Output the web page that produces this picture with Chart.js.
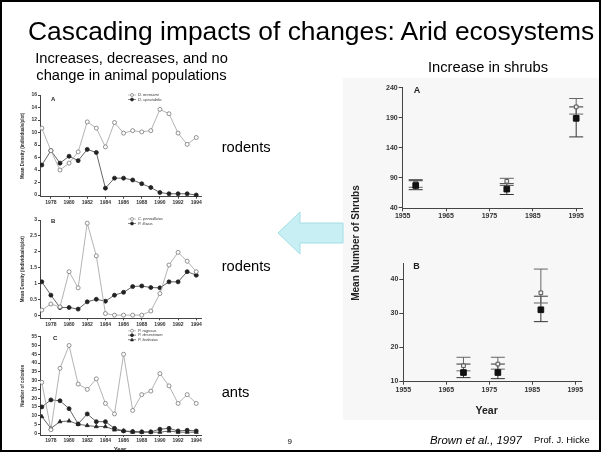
<!DOCTYPE html>
<html>
<head>
<meta charset="utf-8">
<title>Cascading impacts of changes: Arid ecosystems</title>
<script src="https://cdn.jsdelivr.net/npm/chart.js"></script>
<style>
  html, body { margin: 0; padding: 0; background: #fff; }
  body { width: 601px; height: 452px; position: relative; overflow: hidden;
         font-family: "Liberation Sans", Arial, sans-serif; }
  .frame { position: absolute; left: 0; top: 0; width: 597px; height: 448px; border: 2px solid #000; }
  .scan { position: absolute; left: 343px; top: 78px; width: 256px; height: 342px; background: #f7f7f7; }
  .txt { position: absolute; white-space: nowrap; color: #000; line-height: 1; }
  canvas { position: absolute; }
</style>
</head>
<body>
  <div class="scan"></div>

  <canvas id="rodentsA" width="190" height="125" style="left:20px;top:85px"></canvas>
  <canvas id="rodentsB" width="190" height="125" style="left:20px;top:208px"></canvas>
  <canvas id="ants" width="190" height="124" style="left:20px;top:328px"></canvas>
  <canvas id="shrubsA" width="240" height="145" style="left:355px;top:80px"></canvas>
  <canvas id="shrubsB" width="240" height="145" style="left:355px;top:255px"></canvas>

  <svg style="position:absolute;left:0;top:0" width="601" height="452">
    <polygon points="278,233 300,212 300,223 343,223 343,243 300,243 300,254"
             fill="#c8eff3" stroke="#a3dde5" stroke-width="1"/>
  </svg>

  <div class="txt" style="left:28px;top:17.6px;font-size:26.4px">Cascading impacts of changes: Arid ecosystems</div>
  <div class="txt" style="left:21.5px;top:49.6px;width:220px;text-align:center;font-size:14.7px;line-height:17.2px">Increases, decreases, and no<br>change in animal populations</div>
  <div class="txt" style="left:428px;top:59.9px;font-size:14.7px">Increase in shrubs</div>
  <div class="txt" style="left:221.7px;top:139.6px;font-size:14.7px">rodents</div>
  <div class="txt" style="left:221.7px;top:259.3px;font-size:14.7px">rodents</div>
  <div class="txt" style="left:221.7px;top:384.6px;font-size:14.7px">ants</div>
  <div class="txt" style="left:356px;top:243px;font-size:10px;font-weight:bold;color:#222;transform:translate(-50%,-50%) rotate(-90deg)">Mean Number of Shrubs</div>
  <div class="txt" style="left:486.7px;top:405px;font-size:10.5px;font-weight:bold;color:#222;transform:translateX(-50%)">Year</div>
  <div class="txt" style="left:120px;top:446px;font-size:6px;font-weight:bold;color:#222;transform:translateX(-50%)">Year</div>
  <div class="txt" style="left:287.5px;top:438.2px;font-size:8px">9</div>
  <div class="txt" style="left:430px;top:435.3px;font-size:11.4px;font-style:italic">Brown et al., 1997</div>
  <div class="txt" style="left:534px;top:434.7px;font-size:9.4px">Prof. J. Hicke</div>

  <div class="frame"></div>

<script>
// ---- data ----
const years = [1977, 1978, 1979, 1980, 1981, 1982, 1983, 1984, 1985, 1986, 1987, 1988, 1989, 1990, 1991, 1992, 1993, 1994];
const yearTicks = [1978, 1980, 1982, 1984, 1986, 1988, 1990, 1992, 1994];

const rodentsA_open   = [10.7, 7.1, 4.0, 5.1, 6.9, 11.7, 10.7, 7.7, 11.6, 9.9, 10.3, 10.1, 10.3, 13.7, 13.0, 9.9, 8.1, 9.2];
const rodentsA_filled = [4.8, 7.1, 5.1, 6.2, 5.5, 7.3, 6.8, 1.1, 2.7, 2.7, 2.4, 1.8, 1.2, 0.4, 0.2, 0.2, 0.2, 0.0];
const rodentsA_ticks  = [0, 2, 4, 6, 8, 10, 12, 14, 16];

const rodentsB_open   = [0.16, 0.35, 0.26, 1.37, 0.86, 2.9, 1.87, 0.05, 0, 0, 0, 0, 0.13, 0.68, 1.58, 1.98, 1.7, 1.37];
const rodentsB_filled = [1.05, 0.63, 0.24, 0.24, 0.19, 0.42, 0.5, 0.44, 0.63, 0.72, 0.9, 0.92, 0.87, 0.86, 1.05, 1.05, 1.37, 1.26];
const rodentsB_ticks  = [0, 0.5, 1, 1.5, 2, 2.5, 3];

const ants_open   = [29, 2, 37, 50, 28, 25, 31, 17, 11, 45, 13, 22, 24, 34, 27, 17, 22, 17];
const ants_filled = [15, 19, 18.5, 14, 5.3, 11, 6.6, 6.6, 2.8, 1.3, 1, 0.8, 0.8, 2.3, 2.8, 1.3, 1.7, 1.3];
const ants_tri    = [9.5, 2.8, 6.6, 7, 5.1, 4.4, 3.8, 3.8, 1.9, 1.3, 0.6, 0.6, 0.6, 0.6, 1.3, 0.6, 0.6, 0.6];
const ants_ticks  = [0, 5, 10, 15, 20, 25, 30, 35, 40, 45, 50, 55];

const shrubTicks = [1955, 1965, 1975, 1985, 1995];

const shrubYearsA  = [1958, 1979, 1995];
const shrubA_mean  = [77, 71, 189];
const shrubA_lo    = [70, 62, 158];
const shrubA_hi    = [85, 80, 208];
const shrubA_alt   = [81, 84, 208];
const shrubA_altLo = [74, 77, 196];
const shrubA_altHi = [87, 89, 222];
const shrubA_ticks = [40, 90, 140, 190, 240];

const shrubYearsB  = [1969, 1977, 1987];
const shrubB_mean  = [12.5, 12.5, 31];
const shrubB_lo    = [11, 10.7, 27.5];
const shrubB_hi    = [15, 15, 35];
const shrubB_alt   = [14.5, 15, 36];
const shrubB_altLo = [13, 13.5, 33];
const shrubB_altHi = [17, 17, 43];
const shrubB_ticks = [10, 20, 30, 40];

// ---- helpers ----
const FONT = '"Liberation Sans", Arial, sans-serif';
Chart.defaults.font.family = FONT;

const pts = (xs, ys) => xs.map((x, i) => ({ x: x, y: ys[i] }));

function marker(ctx, ds, x, y, r) {
  ctx.fillStyle = ds.pointBackgroundColor;
  ctx.strokeStyle = ds.pointBorderColor;
  ctx.lineWidth = 0.7;
  ctx.beginPath();
  if (ds.pointStyle === 'triangle') {
    ctx.moveTo(x, y - r); ctx.lineTo(x + r, y + r * 0.8); ctx.lineTo(x - r, y + r * 0.8); ctx.closePath();
  } else {
    ctx.arc(x, y, r, 0, Math.PI * 2);
  }
  ctx.fill(); ctx.stroke();
}

// letter "A/B/C" and the small legend inside each panel
const panelPlugin = {
  id: 'panel',
  afterDraw(chart, args, opts) {
    if (!opts || !opts.letter) return;
    const ctx = chart.ctx, a = chart.chartArea;
    ctx.save();
    ctx.fillStyle = '#222';
    ctx.font = 'bold ' + opts.letterSize + 'px ' + FONT;
    ctx.textBaseline = 'top';
    ctx.fillText(opts.letter, a.left + opts.letterX, a.top + opts.letterY);
    if (opts.legendX !== undefined) {
      ctx.textBaseline = 'middle';
      chart.data.datasets.forEach((ds, i) => {
        const x = a.left + opts.legendX, y = a.top + opts.legendY + i * 4.5;
        ctx.strokeStyle = ds.borderColor; ctx.lineWidth = 0.7;
        ctx.beginPath(); ctx.moveTo(x - 4, y); ctx.lineTo(x + 4, y); ctx.stroke();
        marker(ctx, ds, x, y, 1.5);
        ctx.fillStyle = '#333';
        ctx.font = 'italic 4px ' + FONT;
        ctx.fillText(ds.label, x + 6, y);
      });
    }
    ctx.restore();
  }
};
Chart.register(panelPlugin);

const errorBars = {
  id: 'errorBars',
  beforeDatasetsDraw(chart) {
    const ctx = chart.ctx, xs = chart.scales.x, ys = chart.scales.y;
    chart.data.datasets.forEach(ds => {
      if (!ds.errLo) return;
      ctx.save();
      ctx.strokeStyle = ds.errColor; ctx.lineWidth = 1;
      ds.data.forEach((p, i) => {
        const px = xs.getPixelForValue(p.x);
        const lo = ys.getPixelForValue(ds.errLo[i]), hi = ys.getPixelForValue(ds.errHi[i]);
        ctx.beginPath();
        ctx.moveTo(px, lo); ctx.lineTo(px, hi);
        ctx.moveTo(px - 7, lo); ctx.lineTo(px + 7, lo);
        ctx.moveTo(px - 7, hi); ctx.lineTo(px + 7, hi);
        ctx.stroke();
      });
      ctx.restore();
    });
  }
};

function axis(o) {
  return {
    type: 'linear',
    min: o.min, max: o.max,
    afterBuildTicks: s => { s.ticks = o.ticks.map(v => ({ value: v })); },
    afterFit: s => { if (o.width !== undefined) s.width = o.width; if (o.height !== undefined) s.height = o.height; },
    grid: { drawOnChartArea: false, tickLength: o.tickLength, color: '#444' },
    border: { color: '#444', width: 1 },
    title: o.title ? { display: true, text: o.title, padding: 0, color: '#333', font: { size: 4.5, weight: 'bold' } } : { display: false },
    ticks: { autoSkip: false, maxRotation: 0, minRotation: 0, padding: 1, color: '#333',
             callback: v => String(v),
             font: { size: o.fontSize, weight: 'bold' } }
  };
}

function series(label, ys, style) {
  const open = style === 'open';
  return {
    label: label,
    data: pts(years, ys),
    borderColor: open ? '#aaa' : '#555',
    borderWidth: 0.9,
    pointStyle: style === 'tri' ? 'triangle' : 'circle',
    pointRadius: style === 'tri' ? 2.3 : 2,
    pointBorderWidth: 0.8,
    pointBackgroundColor: open ? '#fff' : '#222',
    pointBorderColor: open ? '#777' : '#222',
    tension: 0
  };
}

function leftChart(id, datasets, y, pad, xHeight, panel) {
  new Chart(document.getElementById(id), {
    type: 'line',
    data: { datasets: datasets },
    options: {
      responsive: false, animation: false, devicePixelRatio: 1,
      layout: { padding: { top: pad, right: 8.3, bottom: 0, left: 0 } },
      plugins: { legend: { display: false }, tooltip: { enabled: false }, panel: panel },
      scales: {
        x: axis({ min: 1976.8, max: 1994.6, ticks: yearTicks, height: xHeight, tickLength: 2, fontSize: 5 }),
        y: axis({ min: y.min, max: y.max, ticks: y.ticks, width: 20, tickLength: 2, fontSize: 5, title: y.title })
      }
    }
  });
}

leftChart('rodentsA', [
  series('D. merriami', rodentsA_open, 'open'),
  series('D. spectabilis', rodentsA_filled, 'filled')
], { min: -0.27, max: 16, ticks: rodentsA_ticks, title: 'Mean Density (individuals/plot)' }, 10, 13.3,
   { letter: 'A', letterSize: 6, letterX: 11, letterY: 1, legendX: 92, legendY: 0 });

leftChart('rodentsB', [
  series('C. penicillatus', rodentsB_open, 'open'),
  series('P. flavus', rodentsB_filled, 'filled')
], { min: -0.1, max: 3, ticks: rodentsB_ticks, title: 'Mean Density (individuals/plot)' }, 12, 14.7,
   { letter: 'B', letterSize: 6, letterX: 11, letterY: -2, legendX: 92, legendY: -1 });

leftChart('ants', [
  series('P. rugosus', ants_open, 'open'),
  series('P. desertorum', ants_filled, 'filled'),
  series('P. barbatus', ants_tri, 'tri')
], { min: -1, max: 55, ticks: ants_ticks, title: 'Number of colonies' }, 8.7, 17,
   { letter: 'C', letterSize: 6, letterX: 13, letterY: -1, legendX: 92, legendY: -6 });

function shrubChart(id, yrs, mean, lo, hi, alt, altLo, altHi, y, lay, panel) {
  new Chart(document.getElementById(id), {
    type: 'scatter',
    data: { datasets: [
      { label: 'mean', data: pts(yrs, mean), errLo: lo, errHi: hi, errColor: '#333',
        pointStyle: 'rect', pointRadius: 4, pointBackgroundColor: '#111', pointBorderColor: '#111', borderColor: '#111' },
      { label: 'alt', data: pts(yrs, alt), errLo: altLo, errHi: altHi, errColor: '#666',
        pointStyle: 'rect', pointRadius: 2.6, pointBorderWidth: 1, pointBackgroundColor: '#eee', pointBorderColor: '#555', borderColor: '#555' }
    ] },
    options: {
      responsive: false, animation: false, devicePixelRatio: 1,
      layout: { padding: { top: lay.top, right: lay.right, bottom: 0, left: 0 } },
      plugins: { legend: { display: false }, tooltip: { enabled: false }, panel: panel },
      scales: {
        x: axis({ min: 1955, max: 1996.5, ticks: shrubTicks, height: lay.xHeight, tickLength: 3, fontSize: 7 }),
        y: axis({ min: y.min, max: y.max, ticks: y.ticks, width: lay.yWidth, tickLength: 4, fontSize: 7 })
      }
    },
    plugins: [errorBars]
  });
}

shrubChart('shrubsA', shrubYearsA, shrubA_mean, shrubA_lo, shrubA_hi, shrubA_alt, shrubA_altLo, shrubA_altHi,
  { min: 39, max: 240, ticks: shrubA_ticks },
  { top: 7.7, right: 12.3, xHeight: 16.7, yWidth: 47.7 },
  { letter: 'A', letterSize: 9, letterX: 11, letterY: -2 });

shrubChart('shrubsB', shrubYearsB, shrubB_mean, shrubB_lo, shrubB_hi, shrubB_alt, shrubB_altLo, shrubB_altHi,
  { min: 9.8, max: 44.7, ticks: shrubB_ticks },
  { top: 8.3, right: 13.3, xHeight: 18.3, yWidth: 48.3 },
  { letter: 'B', letterSize: 9, letterX: 10, letterY: -1 });
</script>
</body>
</html>
